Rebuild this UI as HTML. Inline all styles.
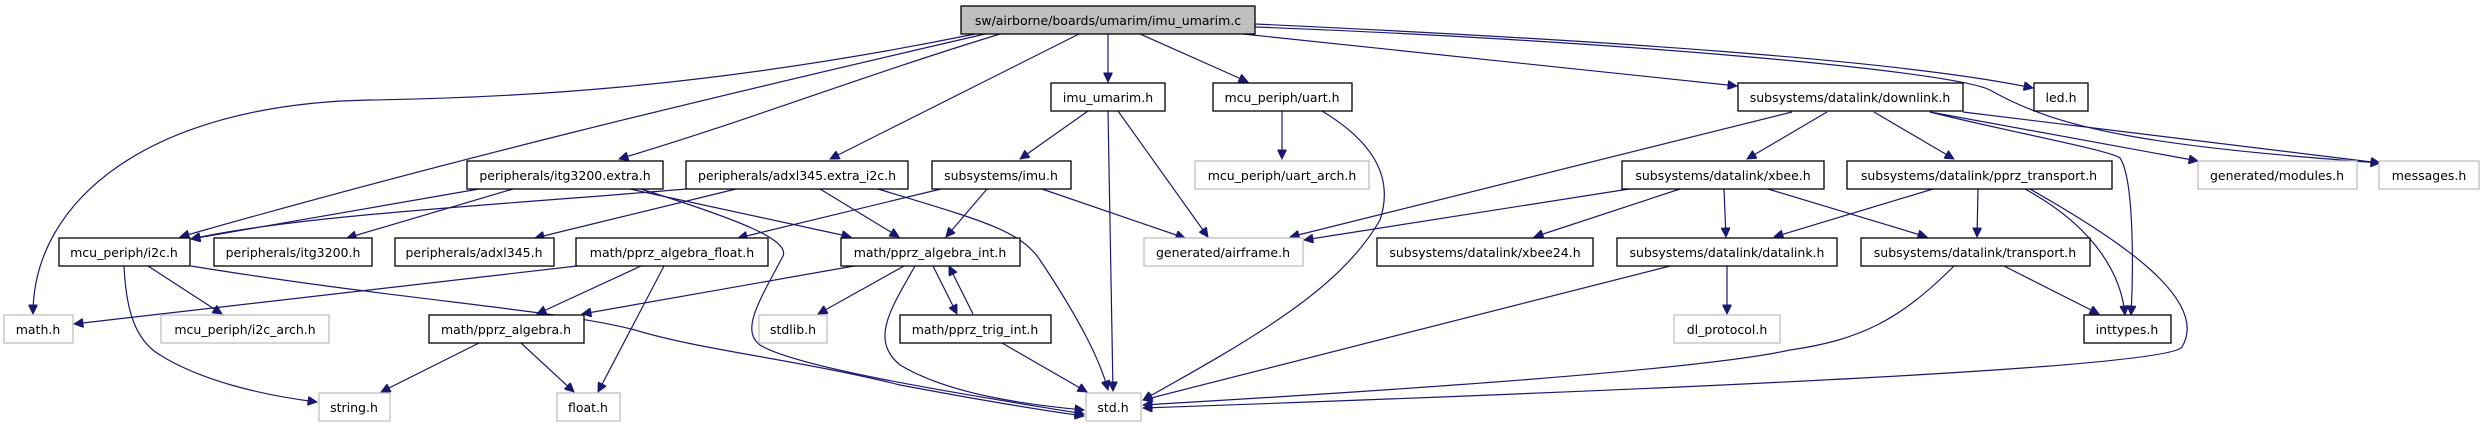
<!DOCTYPE html>
<html><head><meta charset="utf-8"><style>
html,body{margin:0;padding:0;background:#fff;}
svg{display:block;}
text{font-family:"DejaVu Sans","Liberation Sans",sans-serif;font-size:12.5px;fill:#000;text-anchor:middle;}
.n{fill:#fff;stroke:#000;stroke-width:1.3;}
.g{fill:#fff;stroke:#bfbfbf;stroke-width:1.3;}
.e{fill:none;stroke:#191970;stroke-width:1.2;}
</style></head><body>
<svg width="2484" height="427" viewBox="0 0 2484 427" xmlns="http://www.w3.org/2000/svg">
<defs><marker id="a" viewBox="0 0 10 10" refX="10" refY="5" markerWidth="11" markerHeight="9" markerUnits="userSpaceOnUse" orient="auto"><path d="M0,0 L10,5 L0,10 z" fill="#191970" stroke="#191970"/></marker></defs>
<g class="e" marker-end="url(#a)">
<path d="M975 34 C700 90 500 98 370 100 C150 104 33 200 33 314"/>
<path d="M985 34 C700 100 450 160 180 237"/>
<path d="M1000 34 C850 80 750 120 619 159"/>
<path d="M1079 34 L830 159"/>
<path d="M1108 34 L1108 82"/>
<path d="M1140 34 L1248 82"/>
<path d="M1243 34 L1737 86"/>
<path d="M1255 24 C1600 40 1900 60 2033 88"/>
<path d="M1255 27 C1600 40 1950 70 1990 90 C2060 130 2150 146 2380 163"/>
<path d="M1963 112 L2380 163"/>
<path d="M1930 112 L2198 161"/>
<path d="M1930 112 C2000 130 2110 150 2120 158 C2135 180 2133 280 2131 315"/>
<path d="M1827 112 L1747 159"/>
<path d="M1874 112 L1954 159"/>
<path d="M1792 112 L1290 237"/>
<path d="M1629 189 L1304 240"/>
<path d="M1680 189 L1534 237"/>
<path d="M1724 189 L1726 237"/>
<path d="M1768 189 L1927 237"/>
<path d="M1933 189 L1774 237"/>
<path d="M1978 189 L1977 237"/>
<path d="M2025 189 C2100 230 2122 280 2125 315"/>
<path d="M2030 189 C2120 240 2210 300 2182 347 C2170 365 1800 385 1143 408"/>
<path d="M1727 266 L1727 314"/>
<path d="M1670 266 L1143 400"/>
<path d="M2004 266 L2099 314"/>
<path d="M1954 266 C1900 320 1860 340 1790 350 C1700 370 1400 390 1143 405"/>
<path d="M1282 111 L1282 159"/>
<path d="M1322 111 C1370 140 1395 175 1380 220 C1340 290 1250 340 1143 400"/>
<path d="M1088 111 L1020 159"/>
<path d="M1108 111 L1113 391"/>
<path d="M1118 111 L1208 237"/>
<path d="M1042 189 L1185 238"/>
<path d="M987 189 L946 237"/>
<path d="M941 189 L738 238"/>
<path d="M686 189 C500 205 300 215 191 239"/>
<path d="M736 189 L535 238"/>
<path d="M820 189 L899 237"/>
<path d="M878 189 C980 220 1020 230 1040 260 C1080 320 1100 360 1108 390"/>
<path d="M479 189 L191 239"/>
<path d="M513 189 L347 238"/>
<path d="M630 189 L851 237"/>
<path d="M641 189 C740 220 790 240 783 256 C760 300 740 330 760 345 C800 370 1000 400 1084 414"/>
<path d="M148 266 L222 314"/>
<path d="M124 266 C126 310 135 340 160 355 C200 380 260 395 317 402"/>
<path d="M191 266 C400 300 560 310 635 330 C700 350 800 360 900 385 C980 400 1040 410 1084 416"/>
<path d="M577 266 L74 324"/>
<path d="M641 266 L537 314"/>
<path d="M664 266 L598 392"/>
<path d="M854 266 L582 314"/>
<path d="M904 266 L818 314"/>
<path d="M933 266 L957 314"/>
<path d="M973 314 L949 266"/>
<path d="M915 266 C890 310 870 340 900 365 C950 395 1030 405 1084 410"/>
<path d="M1002 343 L1087 392"/>
<path d="M479 343 L381 392"/>
<path d="M521 343 L574 392"/>
</g>
<rect x="961" y="6" width="294" height="28" fill="#bfbfbf" stroke="#000" stroke-width="1.3"/><text x="1108" y="25">sw/airborne/boards/umarim/imu_umarim.c</text>
<rect class="n" x="1051" y="83" width="114" height="28"/><text x="1108" y="102">imu_umarim.h</text>
<rect class="n" x="1213" y="83" width="139" height="28"/><text x="1282" y="102">mcu_periph/uart.h</text>
<rect class="n" x="1738" y="83" width="225" height="28"/><text x="1850" y="102">subsystems/datalink/downlink.h</text>
<rect class="n" x="2034" y="83" width="54" height="28"/><text x="2061" y="102">led.h</text>
<rect class="n" x="467" y="161" width="196" height="28"/><text x="565" y="180">peripherals/itg3200.extra.h</text>
<rect class="n" x="686" y="161" width="222" height="28"/><text x="797" y="180">peripherals/adxl345.extra_i2c.h</text>
<rect class="n" x="932" y="161" width="139" height="28"/><text x="1001" y="180">subsystems/imu.h</text>
<rect class="g" x="1195" y="161" width="174" height="28"/><text x="1282" y="180">mcu_periph/uart_arch.h</text>
<rect class="n" x="1622" y="161" width="202" height="28"/><text x="1723" y="180">subsystems/datalink/xbee.h</text>
<rect class="n" x="1847" y="161" width="265" height="28"/><text x="1979" y="180">subsystems/datalink/pprz_transport.h</text>
<rect class="g" x="2198" y="161" width="159" height="28"/><text x="2277" y="180">generated/modules.h</text>
<rect class="g" x="2379" y="161" width="100" height="28"/><text x="2429" y="180">messages.h</text>
<rect class="n" x="59" y="238" width="131" height="28"/><text x="124" y="257">mcu_periph/i2c.h</text>
<rect class="n" x="214" y="238" width="158" height="28"/><text x="293" y="257">peripherals/itg3200.h</text>
<rect class="n" x="395" y="238" width="159" height="28"/><text x="474" y="257">peripherals/adxl345.h</text>
<rect class="n" x="576" y="238" width="192" height="28"/><text x="672" y="257">math/pprz_algebra_float.h</text>
<rect class="n" x="841" y="238" width="179" height="28"/><text x="930" y="257">math/pprz_algebra_int.h</text>
<rect class="g" x="1144" y="238" width="159" height="28"/><text x="1223" y="257">generated/airframe.h</text>
<rect class="n" x="1377" y="238" width="216" height="28"/><text x="1485" y="257">subsystems/datalink/xbee24.h</text>
<rect class="n" x="1617" y="238" width="220" height="28"/><text x="1727" y="257">subsystems/datalink/datalink.h</text>
<rect class="n" x="1861" y="238" width="229" height="28"/><text x="1975" y="257">subsystems/datalink/transport.h</text>
<rect class="g" x="4" y="315" width="69" height="28"/><text x="38" y="334">math.h</text>
<rect class="g" x="161" y="315" width="168" height="28"/><text x="245" y="334">mcu_periph/i2c_arch.h</text>
<rect class="n" x="429" y="315" width="155" height="28"/><text x="506" y="334">math/pprz_algebra.h</text>
<rect class="g" x="759" y="315" width="68" height="28"/><text x="793" y="334">stdlib.h</text>
<rect class="n" x="900" y="315" width="151" height="28"/><text x="975" y="334">math/pprz_trig_int.h</text>
<rect class="g" x="1674" y="315" width="106" height="28"/><text x="1727" y="334">dl_protocol.h</text>
<rect class="n" x="2084" y="315" width="87" height="28"/><text x="2127" y="334">inttypes.h</text>
<rect class="g" x="319" y="393" width="71" height="28"/><text x="354" y="412">string.h</text>
<rect class="g" x="557" y="393" width="63" height="28"/><text x="588" y="412">float.h</text>
<rect class="g" x="1086" y="393" width="55" height="28"/><text x="1113" y="412">std.h</text>
</svg>
</body></html>
